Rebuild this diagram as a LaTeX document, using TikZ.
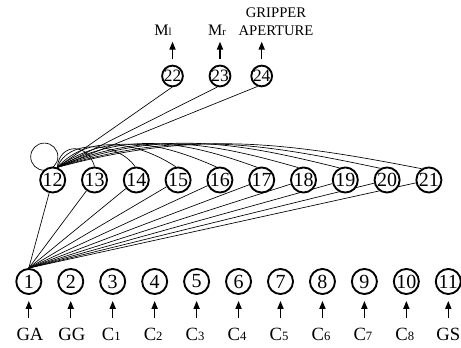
\documentclass[tikz,border=0pt]{standalone}
\usepackage{fontspec}
\setmainfont{Liberation Serif}
\usetikzlibrary{arrows.meta}
\newlength\pxl
\setlength\pxl{0.75pt}
\pgfdeclarelayer{bg}
\pgfsetlayers{bg,main}
\newcommand{\bsub}[1]{{\fontsize{9.5}{9.5}\selectfont #1}}
\newcommand{\tsub}[1]{{\fontsize{8}{8}\selectfont #1}}
\begin{document}
\begin{tikzpicture}[x=0.75pt,y=0.75pt,
  vtx/.style={circle,draw,line width=1.4pt,fill=white,inner sep=0pt,minimum size=18.8pt,font=\fontsize{15}{15}\selectfont},
  vtxs/.style={circle,draw,line width=1.4pt,fill=white,inner sep=0pt,minimum size=15.2pt,font=\fontsize{13}{13}\selectfont},
  conn/.style={line width=0.5pt},
  arr/.style={line width=1pt,-{Triangle[length=6pt,width=4.6pt]}},
  blab/.style={inner sep=0pt,anchor=base,text height=9pt,text depth=0pt,font=\fontsize{14}{14}\selectfont},
  tlab/.style={inner sep=0pt,font=\fontsize{12}{13.5}\selectfont}]
\useasboundingbox (0,0) rectangle (461,348);
% bottom row
\foreach \i/\t/\dx in {1/GA/1.2,2/GG/1.2,3/C\bsub{1}/-1.5,4/C\bsub{2}/-1.5,5/C\bsub{3}/-1.5,6/C\bsub{4}/-1.5,7/C\bsub{5}/-1.5,8/C\bsub{6}/-1.5,9/C\bsub{7}/-1.5,10/C\bsub{8}/-1.5,11/GS/0} {
  \node[vtx] (n\i) at ({28.8+41.95*(\i-1)},66.5) {\i};
  \node[blab] (b\i) at ({28.8+41.95*(\i-1)+\dx},7) {\t};
}
% middle row
\foreach \i in {12,...,21} {
  \node[vtx] (n\i) at ({52.7+41.8*(\i-12)},168) {\i};
}
% top row
\node[vtxs] (n22) at (172.5,272) {22};
\node[vtxs] (n23) at (220,272) {23};
\node[vtxs] (n24) at (261.7,272) {24};
\node[tlab,anchor=base] (t22) at (163,312) {M\tsub{l}};
\node[tlab,anchor=base] (t23) at (217,312) {M\tsub{r}};
\node[tlab,anchor=south,align=center,font=\fontsize{11}{13.3}\selectfont] (t24) at (276,312) {GRIPPER\\APERTURE};
\begin{pgfonlayer}{bg}
  % self loop on 12
  \draw[conn] ([shift={(-8.4,23.3)}]n12.center) circle[radius=10.2pt];
  % from 1 to middle row
  \foreach \k in {12,...,21} \draw[conn] (n1.north) -- (n\k);
  % curves from 12
  \foreach \k/\a/\o/\ii/\l in {13/90/85/105/1.7,14/95/70/125/1,15/100/47/147/1,16/105/35/156/1,17/110/28/160/1,18/113/23/164/1,19/116/20/166/1,20/120/17/168/1,21/123/15/169/1}
    \draw[conn] (n12.70) to[out=\o,in=\ii,looseness=\l] (n\k.\a);
  % from 12 to top row
  \draw[conn] (n12.70) -- (n22.-93);
  \draw[conn] (n12.70) -- (n23.-104);
  \draw[conn] (n12.70) -- (n24.-112);
\end{pgfonlayer}
% input arrows
\foreach \i in {1,...,11}
  \draw[arr,shorten <=10.5\pxl,shorten >=6\pxl] (b\i.north -| n\i) -- (n\i.south);
% output arrows
\draw[arr,shorten <=5.5\pxl,shorten >=5.7\pxl] (n22.north) -- (n22.north |- t22.base);
\draw[arr,shorten <=5.5\pxl,shorten >=5.7\pxl] (n23.north) -- (n23.north |- t23.base);
\draw[arr,shorten <=5.5\pxl,shorten >=5.7\pxl] (n24.north) -- (n24.north |- t24.south);
\end{tikzpicture}
\end{document}
